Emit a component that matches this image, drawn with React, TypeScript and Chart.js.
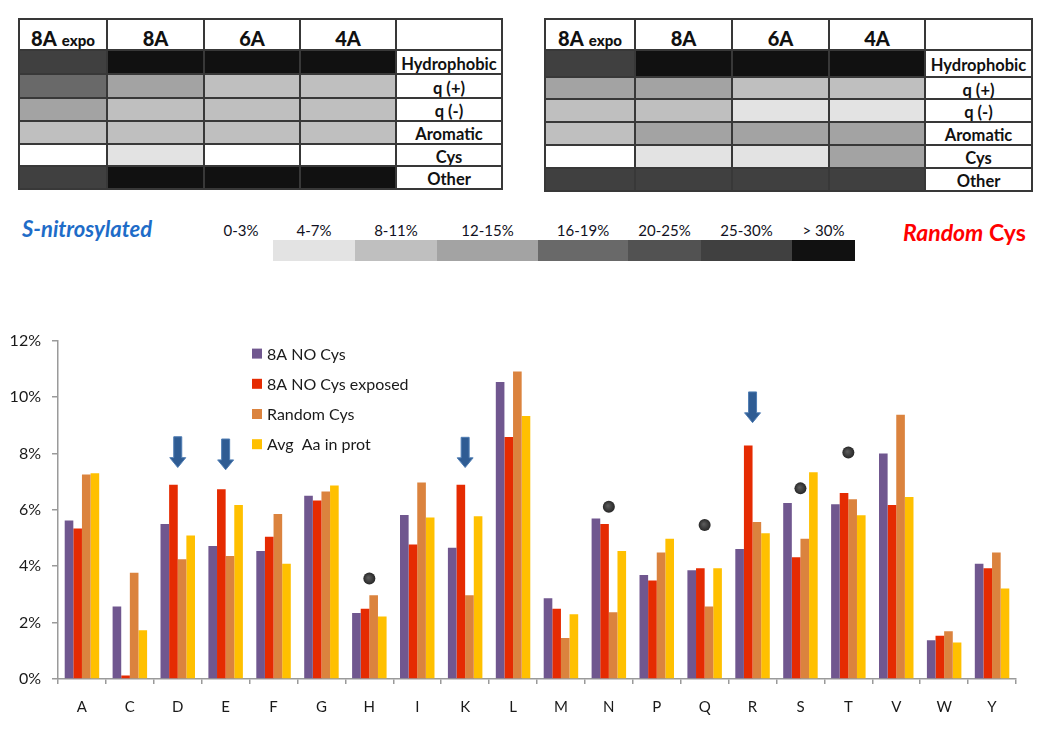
import React, { useEffect, useRef } from "react";
import { Chart, registerables } from "chart.js";

Chart.register(...registerables);

// ---------------- Data ----------------
const categories = ["A", "C", "D", "E", "F", "G", "H", "I", "K", "L", "M", "N", "P", "Q", "R", "S", "T", "V", "W", "Y"];
const seriesLabels = ["8A NO Cys", "8A NO Cys exposed", "Random Cys", "Avg  Aa in prot"];
const seriesColors = ["#70578f", "#e52b02", "#db833e", "#ffc000"];

const noCys = [5.62, 2.57, 5.5, 4.72, 4.54, 6.5, 2.34, 5.82, 4.65, 10.53, 2.86, 5.69, 3.69, 3.86, 4.61, 6.24, 6.2, 8.0, 1.37, 4.09];
const noCysExposed = [5.34, 0.12, 6.89, 6.73, 5.04, 6.33, 2.49, 4.77, 6.89, 8.58, 2.49, 5.5, 3.49, 3.93, 8.28, 4.32, 6.6, 6.17, 1.53, 3.93];
const randomCys = [7.25, 3.77, 4.25, 4.36, 5.85, 6.65, 2.97, 6.97, 2.97, 10.9, 1.45, 2.37, 4.49, 2.57, 5.57, 4.97, 6.37, 9.37, 1.69, 4.49];
const avgAa = [7.3, 1.73, 5.09, 6.17, 4.09, 6.86, 2.22, 5.73, 5.77, 9.33, 2.3, 4.54, 4.97, 3.93, 5.17, 7.33, 5.81, 6.45, 1.29, 3.21];

const yMax = 12;
const yStep = 2;

// arrows (blue) and dots (dark) marking categories
const arrowCategories = ["D", "E", "K", "R"];
const arrowTops = [8.59, 8.51, 8.57, 10.18];
const arrowTips = [7.5, 7.42, 7.5, 9.09];
const dotCategories = ["H", "N", "Q", "S", "T"];
const dotValues = [3.56, 6.11, 5.46, 6.76, 8.03];

// tables
const tableHeaders = ["8A", "6A", "4A"];
const rowLabels = ["Hydrophobic", "q (+)", "q (-)", "Aromatic", "Cys", "Other"];
const shadeLabels = ["0-3%", "4-7%", "8-11%", "12-15%", "16-19%", "20-25%", "25-30%", "> 30%"];
const shadeColors = ["#ffffff", "#e3e3e3", "#bfbfbf", "#a3a3a3", "#696969", "#525252", "#404040", "#111111"];
// shade index per row: [8A expo, 8A, 6A, 4A]
const nitroShades = [
  [6, 7, 7, 7],
  [4, 3, 2, 2],
  [3, 2, 2, 2],
  [2, 2, 2, 2],
  [0, 1, 0, 0],
  [6, 7, 7, 7],
];
const randomShades = [
  [6, 7, 7, 7],
  [3, 3, 2, 2],
  [2, 2, 1, 1],
  [2, 3, 3, 3],
  [0, 1, 1, 3],
  [6, 6, 6, 6],
];

const FONT = "Lato, 'Open Sans', sans-serif";

// ---------------- Table ----------------
function ShadeTable({ cols, rows, shades }: { cols: number[]; rows: number[]; shades: number[][] }) {
  const els: any[] = [];
  shades.forEach((row, r) => {
    row.forEach((s, c) => {
      els.push(
        <div
          key={`f${r}-${c}`}
          style={{
            position: "absolute",
            left: cols[c],
            top: rows[r + 1],
            width: cols[c + 1] - cols[c],
            height: rows[r + 2] - rows[r + 1],
            background: shadeColors[s],
          }}
        />
      );
    });
    els.push(
      <div
        key={`l${r}`}
        style={{
          position: "absolute",
          left: cols[4],
          top: rows[r + 1],
          width: cols[5] - cols[4],
          height: rows[r + 2] - rows[r + 1],
          display: "flex",
          alignItems: "center",
          justifyContent: "center",
          paddingTop: 4,
          boxSizing: "border-box",
          fontFamily: FONT,
          fontWeight: 700,
          fontSize: 16.5,
          lineHeight: 1,
          color: "#111",
          whiteSpace: "nowrap",
        }}
      >
        {rowLabels[r]}
      </div>
    );
  });
  const headerStyle = (c: number): any => ({
    position: "absolute",
    left: cols[c],
    top: rows[0],
    width: cols[c + 1] - cols[c],
    height: rows[1] - rows[0],
    display: "flex",
    alignItems: "baseline",
    justifyContent: "center",
    paddingTop: 9,
    boxSizing: "border-box",
    fontFamily: FONT,
    fontWeight: 900,
    fontSize: 20,
    lineHeight: 1,
    color: "#111",
  });
  els.push(
    <div key="h0" style={headerStyle(0)}>
      8A<span style={{ fontSize: 15, marginLeft: 5 }}>expo</span>
    </div>
  );
  tableHeaders.forEach((h, i) => {
    els.push(
      <div key={`h${i + 1}`} style={headerStyle(i + 1)}>
        {h}
      </div>
    );
  });
  cols.forEach((x, i) => {
    els.push(
      <div
        key={`v${i}`}
        style={{ position: "absolute", left: x - 1, top: rows[0] - 1, width: 2, height: rows[rows.length - 1] - rows[0] + 2, background: "#383838" }}
      />
    );
  });
  rows.forEach((y, i) => {
    els.push(
      <div
        key={`hz${i}`}
        style={{ position: "absolute", left: cols[0] - 1, top: y - 1, width: cols[cols.length - 1] - cols[0] + 2, height: 2, background: "#383838" }}
      />
    );
  });
  return <>{els}</>;
}

// ---------------- Chart plugins ----------------
const marksPlugin = {
  id: "marks",
  afterDatasetsDraw(chart: any) {
    const { ctx, scales } = chart;
    const x = scales.x;
    const y = scales.y;
    ctx.save();
    arrowCategories.forEach((cat, i) => {
      const cx = x.getPixelForValue(categories.indexOf(cat));
      const yTop = y.getPixelForValue(arrowTops[i]);
      const yTip = y.getPixelForValue(arrowTips[i]);
      const headH = (yTip - yTop) * 0.32;
      ctx.beginPath();
      ctx.moveTo(cx - 4, yTop);
      ctx.lineTo(cx + 4, yTop);
      ctx.lineTo(cx + 4, yTip - headH);
      ctx.lineTo(cx + 8, yTip - headH);
      ctx.lineTo(cx, yTip);
      ctx.lineTo(cx - 8, yTip - headH);
      ctx.lineTo(cx - 4, yTip - headH);
      ctx.closePath();
      ctx.fillStyle = "#2f5c93";
      ctx.fill();
      ctx.lineWidth = 1;
      ctx.strokeStyle = "#4f7db3";
      ctx.stroke();
    });
    dotCategories.forEach((cat, i) => {
      const cx = x.getPixelForValue(categories.indexOf(cat));
      const cy = y.getPixelForValue(dotValues[i]);
      const g = ctx.createRadialGradient(cx - 1, cy - 1, 0.5, cx, cy, 6.5);
      g.addColorStop(0, "#5a5a5a");
      g.addColorStop(0.7, "#333333");
      g.addColorStop(1, "#222222");
      ctx.beginPath();
      ctx.arc(cx, cy, 6, 0, Math.PI * 2);
      ctx.fillStyle = g;
      ctx.fill();
    });
    ctx.restore();
  },
};

const innerLegendPlugin = {
  id: "innerLegend",
  afterDraw(chart: any) {
    const { ctx, chartArea } = chart;
    ctx.save();
    ctx.font = `16px ${FONT}`;
    ctx.textBaseline = "middle";
    ctx.textAlign = "left";
    chart.data.datasets.forEach((ds: any, i: number) => {
      const cy = chartArea.top + 13 + i * 30.2;
      const lx = chartArea.left + 194;
      ctx.fillStyle = ds.backgroundColor;
      ctx.fillRect(lx, cy - 5, 10, 10);
      ctx.fillStyle = "#1a1a1a";
      ctx.fillText(ds.label, lx + 15, cy + 1);
    });
    ctx.restore();
  },
};

function BarChart() {
  const ref = useRef<HTMLCanvasElement>(null);
  useEffect(() => {
    if (!ref.current) return;
    const seriesData = [noCys, noCysExposed, randomCys, avgAa];
    const chart = new Chart(ref.current, {
      type: "bar",
      data: {
        labels: categories,
        datasets: seriesData.map((d, i) => ({
          label: seriesLabels[i],
          data: d,
          backgroundColor: seriesColors[i],
          borderWidth: 0,
          categoryPercentage: 0.72,
          barPercentage: 1.0,
        })),
      },
      options: {
        responsive: false,
        animation: false,
        devicePixelRatio: 1,
        layout: { padding: { top: 17, right: 34, left: 0, bottom: 0 } },
        plugins: {
          legend: { display: false },
          tooltip: { enabled: false },
          title: { display: false },
        },
        scales: {
          x: {
            offset: true,
            afterFit: (s: any) => {
              s.height = 53;
            },
            grid: {
              offset: true,
              drawOnChartArea: false,
              drawTicks: true,
              tickLength: 5,
              color: "#9a9a9a",
              lineWidth: 1.5,
            },
            border: { display: true, color: "#9a9a9a", width: 1.5 },
            ticks: {
              padding: 14,
              color: "#1a1a1a",
              font: { family: FONT, size: 15 },
              maxRotation: 0,
              autoSkip: false,
            },
          },
          y: {
            min: 0,
            max: yMax,
            afterFit: (s: any) => {
              s.width = 58;
            },
            grid: {
              drawOnChartArea: false,
              drawTicks: true,
              tickLength: 6,
              color: "#9a9a9a",
              lineWidth: 1.5,
            },
            border: { display: true, color: "#9a9a9a", width: 1.5 },
            ticks: {
              stepSize: yStep,
              padding: 11,
              color: "#1a1a1a",
              font: { family: FONT, size: 16 },
              callback: (v: any) => `${v}%`,
            },
          },
        },
      },
      plugins: [marksPlugin, innerLegendPlugin],
    });
    return () => chart.destroy();
  }, []);
  return <canvas ref={ref} width={1050} height={412} style={{ position: "absolute", left: 0, top: 320, width: 1050, height: 412 }} />;
}

// ---------------- Shade scale ----------------
const scaleBounds = [209, 273, 355, 437, 538, 628, 701, 792, 855];

function ShadeScale() {
  const els: any[] = [];
  shadeLabels.forEach((lab, i) => {
    const l = scaleBounds[i];
    const w = scaleBounds[i + 1] - l;
    els.push(
      <div
        key={`t${i}`}
        style={{
          position: "absolute",
          left: l,
          top: 221,
          width: w,
          height: 18,
          textAlign: "center",
          fontFamily: FONT,
          fontSize: 15,
          lineHeight: "18px",
          color: "#111122",
          whiteSpace: "nowrap",
        }}
      >
        {lab}
      </div>
    );
    if (i > 0) {
      els.push(
        <div key={`s${i}`} style={{ position: "absolute", left: l, top: 240, width: w, height: 21, background: shadeColors[i] }} />
      );
    }
  });
  return <>{els}</>;
}

export default function App() {
  return (
    <div style={{ position: "absolute", left: 0, top: 0, width: 1050, height: 732, background: "#fff", overflow: "hidden" }}>
      <ShadeTable cols={[19, 107, 204, 300, 396, 502]} rows={[19, 50, 74, 98, 121, 144, 166, 189]} shades={nitroShades} />
      <ShadeTable cols={[545, 635, 732, 829, 925, 1032]} rows={[19, 50, 77, 99, 122, 145, 168, 191]} shades={randomShades} />
      <div
        style={{
          position: "absolute",
          left: 22,
          top: 216,
          fontFamily: FONT,
          fontWeight: 700,
          fontStyle: "italic",
          fontSize: 22,
          lineHeight: "26px",
          color: "#1e6cc8",
          whiteSpace: "nowrap",
        }}
      >
        S-nitrosylated
      </div>
      <div
        style={{
          position: "absolute",
          left: 903,
          top: 218,
          fontFamily: FONT,
          fontWeight: 700,
          fontSize: 23,
          lineHeight: "28px",
          color: "#ff0000",
          whiteSpace: "nowrap",
        }}
      >
        <span style={{ fontStyle: "italic" }}>Random</span> Cys
      </div>
      <ShadeScale />
      <BarChart />
    </div>
  );
}
